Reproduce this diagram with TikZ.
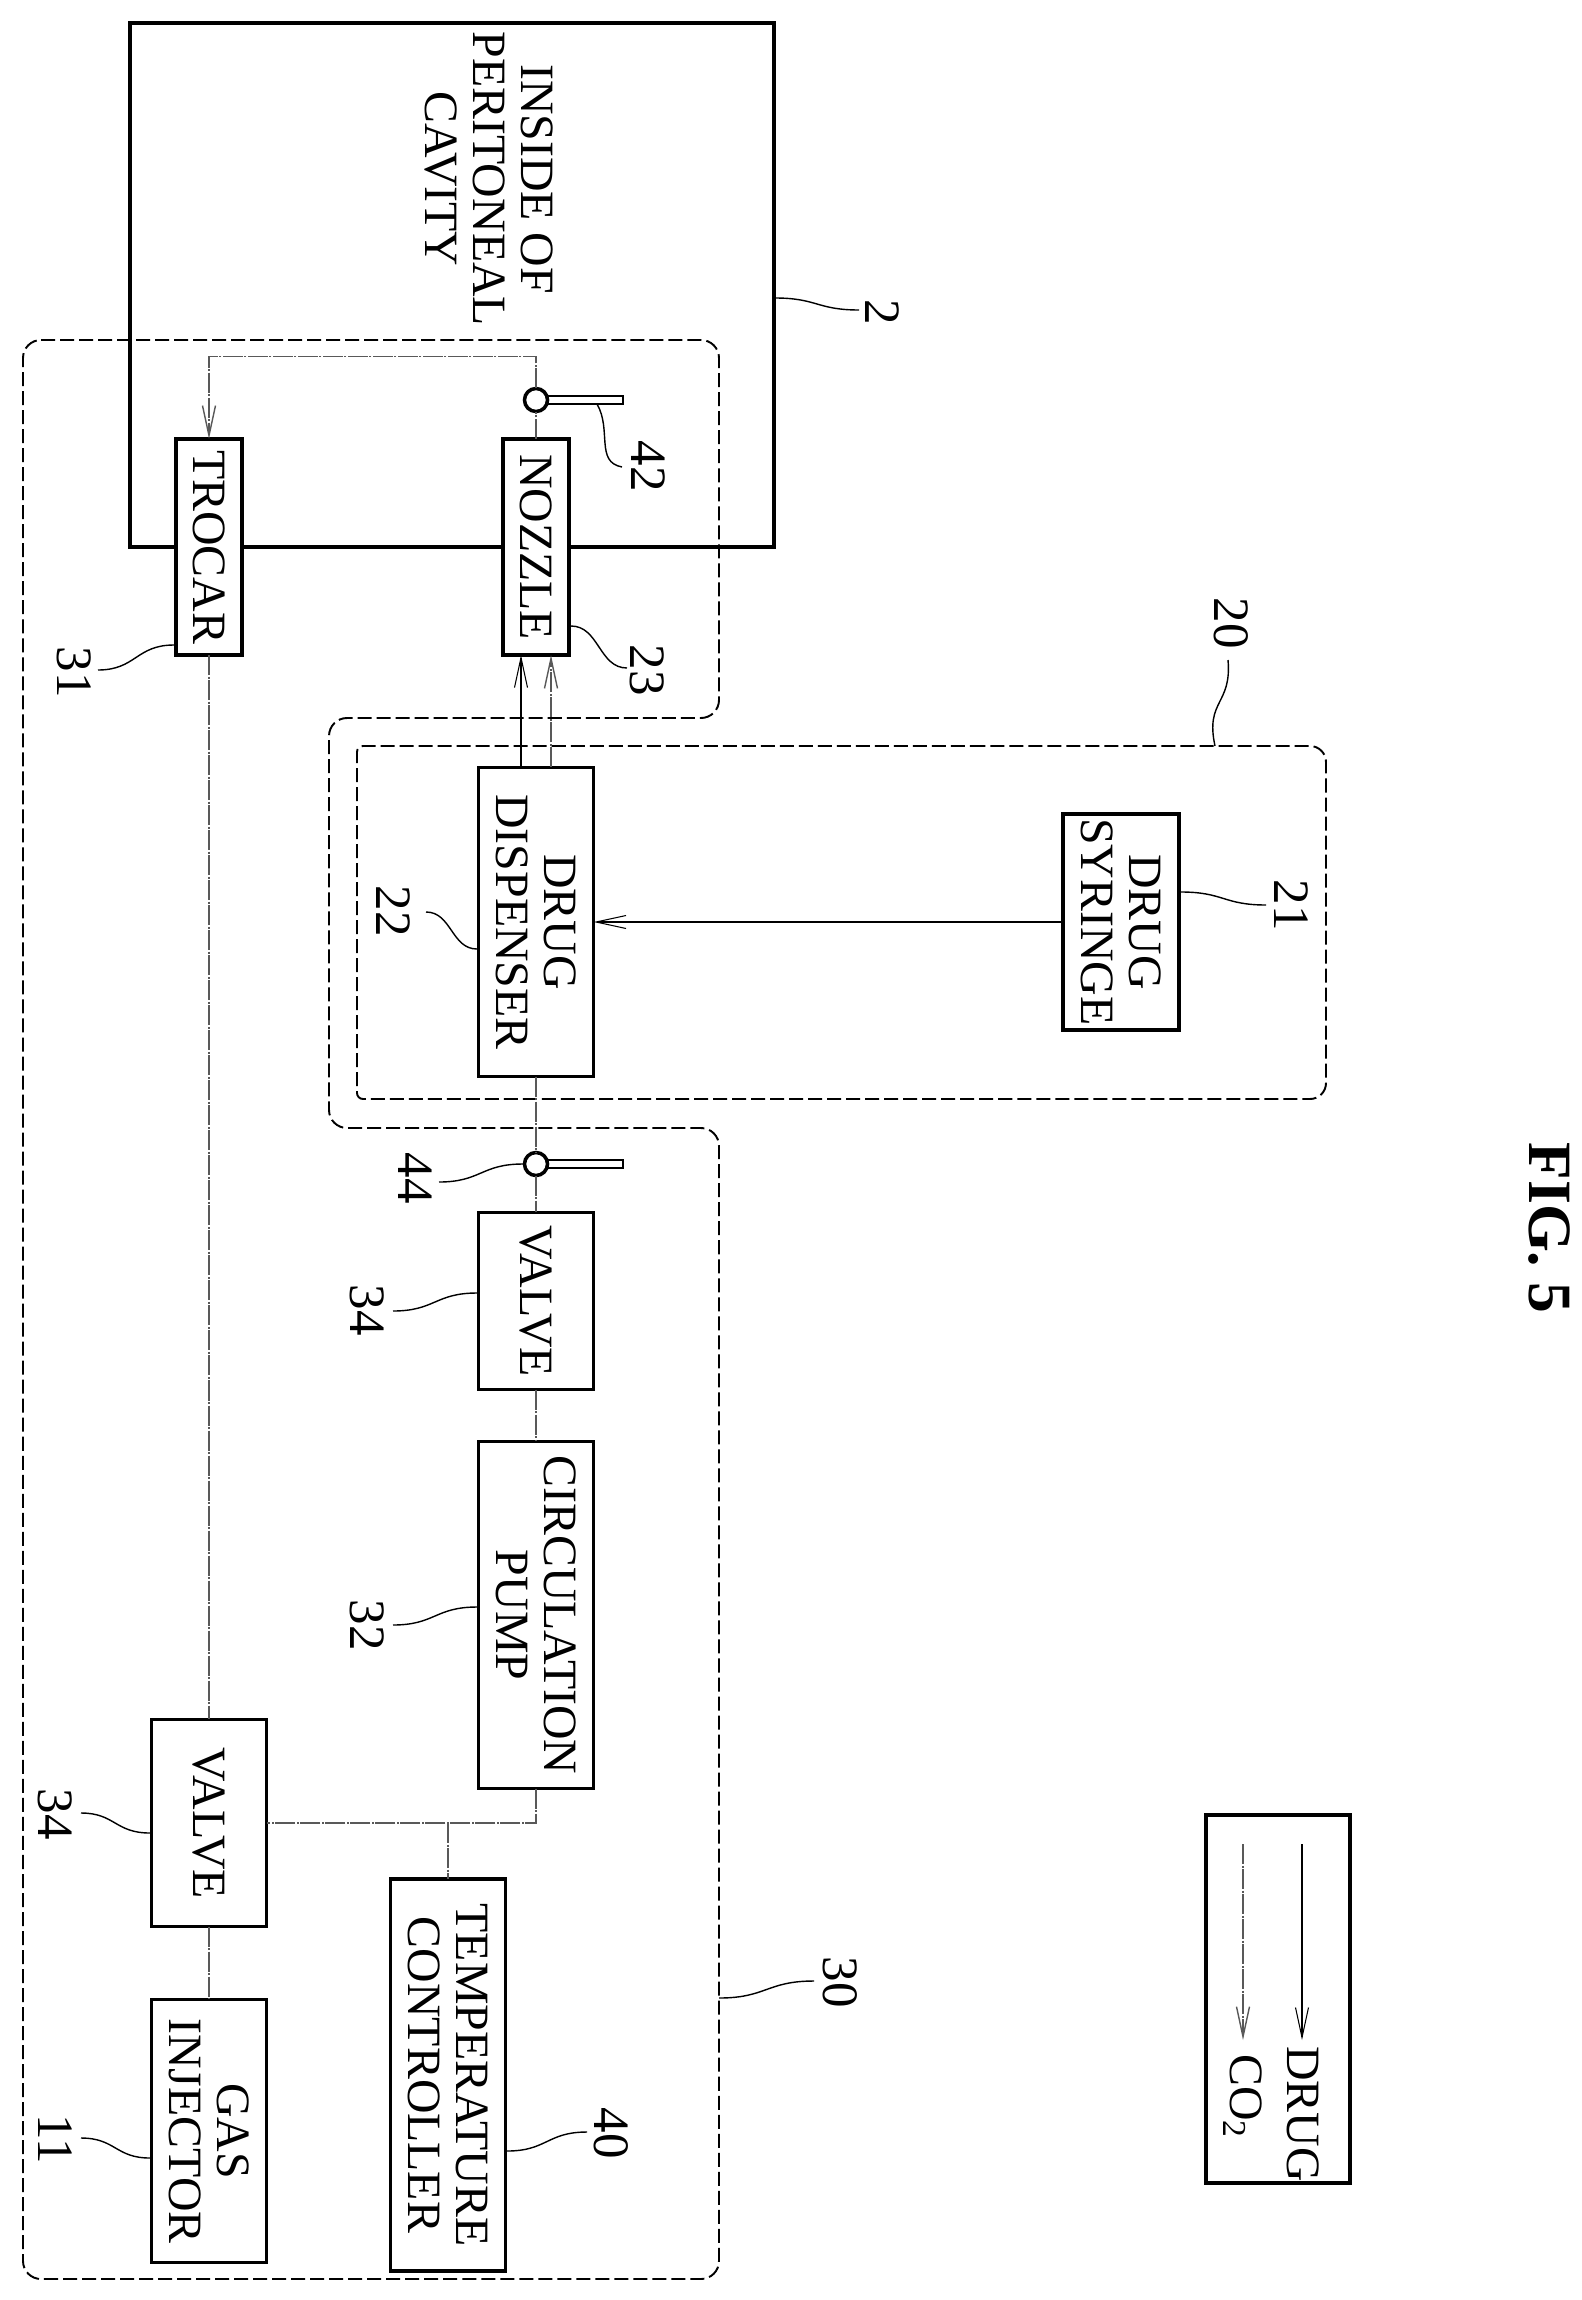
\documentclass[tikz,border=0pt]{standalone}
\usepackage{fontspec}
\setmainfont{Liberation Serif}
\usetikzlibrary{calc,arrows.meta}
\tikzset{
	blockbox/.style={draw,line width=1pt,fill=white,rotate=-90,align=center,inner sep=0pt,outer sep=0pt,font=\fontsize{13.6}{13.7}\selectfont},
	plaintext/.style={rotate=-90,align=center,inner sep=0pt,font=\fontsize{13.6}{13.7}\selectfont},
	reflabel/.style={rotate=-90,inner sep=0pt,font=\fontsize{14.5}{15}\selectfont},
	sensor/.style={circle,draw,line width=1pt,fill=white,minimum size=.23cm,inner sep=0pt,outer sep=0pt},
	groupbox/.style={line width=.55pt,dash pattern=on .14cm off .05cm},
	drugflow/.style={line width=.3pt},
	gasflow/.style={line width=.4pt,color=black!65,dash pattern=on .2cm off .015cm on .02cm off .015cm},
	leader/.style={line width=.4pt}
}
\begin{document}
\begin{tikzpicture}[x=.01cm,y=-.01cm,>={Straight Barb[length=.3cm,width=.13cm]}]
\useasboundingbox (0,0) rectangle (1581,2300);
\draw[line width=1.2pt] (130,23) rectangle (774,547);
\node[plaintext] (cavity) at (489,179){INSIDE OF\\PERITONEAL\\CAVITY};

% dashed groups
\draw[groupbox,rounded corners=.18cm] (23,340) -- (719,340) -- (719,718) -- (329,718) -- (329,1128) -- (719,1128) -- (719,2279) -- (23,2279) -- cycle;
\draw[groupbox,rounded corners=.06cm] (1000,746) -- (357,746) -- (357,1099) -- (1000,1099)[rounded corners=.16cm] -- (1326,1099) -- (1326,746) -- cycle;

% blocks
\node[blockbox,minimum width=2.16cm,minimum height=.66cm] (trocar) at (209,547){TROCAR};
\node[blockbox,minimum width=2.16cm,minimum height=.66cm] (nozzle) at (536,547){NOZZLE};
\node[blockbox,minimum width=3.09cm,minimum height=1.15cm] (dispenser) at (536,922){DRUG\\DISPENSER};
\node[blockbox,minimum width=2.16cm,minimum height=1.16cm] (syringe) at (1121,922){DRUG\\SYRINGE};
\node[blockbox,minimum width=1.77cm,minimum height=1.15cm] (valvea) at (536,1301){VALVE};
\node[blockbox,minimum width=3.47cm,minimum height=1.15cm] (pump) at (536,1615){CIRCULATION\\PUMP};
\node[blockbox,minimum width=2.07cm,minimum height=1.15cm] (valveb) at (209,1823){VALVE};
\node[blockbox,minimum width=2.63cm,minimum height=1.15cm] (injector) at (209,2131){GAS\\INJECTOR};
\node[blockbox,minimum width=3.92cm,minimum height=1.15cm] (controller) at (448,2075){TEMPERATURE\\CONTROLLER};

% flows
\coordinate (tee) at (448,1823);
\draw[gasflow] (trocar.east) -- (valveb.west);
\draw[gasflow] (valveb.east) -- (injector.west);
\draw[gasflow] (pump.east) |- (valveb.north);
\draw[gasflow] (tee) -- (controller.west);
\draw[gasflow] (valvea.east) -- (pump.west);
\draw[drugflow,->] (syringe.south) -- (dispenser.north);
\draw[drugflow,->] ($(dispenser.west)+(-15,0)$) -- ($(nozzle.east)+(-15,0)$);
\draw[gasflow,->] ($(dispenser.west)+(15,0)$) -- ($(nozzle.east)+(15,0)$);

% sensors
\foreach \name/\y in {sensa/400,sensb/1164}{
	\draw[line width=.8pt,fill=white] (536,\y-4) rectangle (623,\y+4);
	\node[sensor] (\name) at (536,\y){};
}
\draw[gasflow,->] (sensa.north) -- ++(0,-32) -| (trocar.west);
\draw[gasflow] (nozzle.west) -- (sensa.south);
\draw[gasflow] (dispenser.east) -- (sensb.north);
\draw[gasflow] (sensb.south) -- (valvea.west);

% numbers and their leaders
\foreach \n/\tx/\ty/\ax/\ay/\bx/\by in {
	2/882/312/775/298/859/310,
	23/647/670/571/626/627/668,
	31/74/672/174/645/98/670,
	22/393/911/477/949/426/912,
	21/1291/905/1181/892/1266/905,
	44/415/1178/523/1164/439/1182,
	34/367/1310/477/1293/393/1311,
	32/367/1625/477/1607/393/1625,
	30/840/1982/719/1998/814/1981,
	40/611/2133/507/2151/587/2132,
	11/55/2139/150/2158/81/2138}{
	\node[reflabel] (num\n) at (\tx,\ty){\n};
	\coordinate (lead\n a) at (\ax,\ay);
	\coordinate (lead\n b) at (\bx,\by);
	\pgfmathsetmacro{\mx}{(\ax+\bx)/2}
	\draw[leader] (lead\n a) .. controls (\mx,\ay) and (\mx,\by) .. (lead\n b);
}
\node[reflabel] (numvalve) at (55,1814){34};
\coordinate (leadva) at (150,1833);
\coordinate (leadvb) at (81,1813);
\draw[leader] (leadva) .. controls (115,1833) and (115,1813) .. (leadvb);
\node[reflabel] (numsa) at (648,466){42};
\coordinate (leadsa) at (597,404);
\coordinate (leadsb) at (622,467);
\draw[leader] (leadsa) .. controls (612,430) and (595,462) .. (leadsb);
\node[reflabel] (numgroup) at (1231,623){20};
\coordinate (leadga) at (1215,746);
\coordinate (leadgb) at (1228,660);
\draw[leader] (leadga) .. controls (1205,700) and (1232,705) .. (leadgb);

% legend
\node[draw,line width=1pt,rotate=-90,minimum width=3.68cm,minimum height=1.44cm,inner sep=0pt] (legend) at (1278,1999){};
\coordinate (drugs) at (1302,1844);
\coordinate (druge) at (1302,2040);
\coordinate (gass) at (1243,1844);
\coordinate (gase) at (1243,2040);
\draw[drugflow,->] (drugs) -- (druge);
\draw[gasflow,->] (gass) -- (gase);
\node[plaintext] (drugtext) at (1303,2114){DRUG};
\node[plaintext] (gastext) at (1243,2097){CO\textsubscript{2}};

\node[rotate=-90,inner sep=0pt,font=\bfseries\fontsize{17.5}{18}\selectfont] (figname) at (1549,1228){FIG. 5};
\end{tikzpicture}
\end{document}
